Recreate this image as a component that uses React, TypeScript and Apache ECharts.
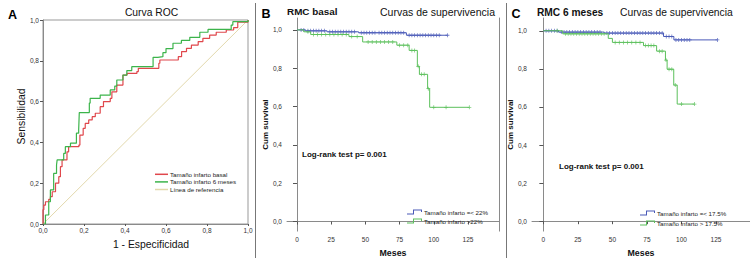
import React, { useEffect, useRef } from 'react';
import * as echarts from 'echarts';

// ---------- Panel A: ROC ----------
const rocBasalFpr = [0, 0, 0.004, 0.012, 0.028, 0.036, 0.045, 0.061, 0.077, 0.085, 0.093, 0.117, 0.125, 0.175, 0.18, 0.196, 0.206, 0.223, 0.24, 0.255, 0.279, 0.295, 0.328, 0.336, 0.36, 0.39, 0.41, 0.458, 0.465, 0.555, 0.565, 0.57, 0.634, 0.66, 0.676, 0.7, 0.724, 0.757, 0.78, 0.813, 0.845, 0.894, 0.93, 0.95, 1];
const rocBasalTpr = [0, 0.07, 0.093, 0.109, 0.121, 0.134, 0.158, 0.2, 0.232, 0.281, 0.314, 0.354, 0.379, 0.387, 0.436, 0.469, 0.493, 0.51, 0.526, 0.543, 0.575, 0.6, 0.616, 0.648, 0.681, 0.73, 0.738, 0.747, 0.763, 0.763, 0.788, 0.804, 0.804, 0.82, 0.845, 0.861, 0.877, 0.894, 0.91, 0.926, 0.94, 0.951, 0.963, 0.99, 1];
const roc6Fpr = [0, 0.012, 0.028, 0.036, 0.052, 0.066, 0.069, 0.101, 0.109, 0.134, 0.163, 0.174, 0.177, 0.195, 0.226, 0.23, 0.279, 0.279, 0.328, 0.328, 0.35, 0.36, 0.39, 0.409, 0.433, 0.537, 0.537, 0.56, 0.585, 0.6, 0.634, 0.675, 0.716, 0.765, 0.805, 0.918, 0.918, 0.926, 1];
const roc6Tpr = [0, 0.044, 0.109, 0.167, 0.248, 0.289, 0.314, 0.346, 0.379, 0.396, 0.445, 0.46, 0.546, 0.546, 0.593, 0.616, 0.616, 0.632, 0.632, 0.657, 0.676, 0.706, 0.73, 0.752, 0.771, 0.771, 0.817, 0.82, 0.84, 0.86, 0.886, 0.9, 0.915, 0.94, 0.954, 0.954, 0.975, 0.992, 1];
const refLineX = [0, 1];
const refLineY = [0, 1];
const rocTicks = [0, 0.2, 0.4, 0.6, 0.8, 1.0];

// ---------- Panel B: RMC basal ----------
const bLowTime = [0, 6, 22, 45, 80, 110];
const bLowSurv = [1, 0.995, 0.99, 0.985, 0.972, 0.972];
const bHighTime = [0, 5, 10, 38, 48, 73, 82, 88, 89.5, 95.5, 97, 126];
const bHighSurv = [1, 0.99, 0.976, 0.965, 0.937, 0.92, 0.893, 0.81, 0.768, 0.693, 0.596, 0.596];
const bLowCensor = [3, 5, 8, 10, 12, 14, 16, 18, 20, 24, 26, 28, 30, 32, 34, 36, 38, 40, 42, 47, 49, 51, 53, 55, 57, 60, 62, 64, 66, 68, 70, 72, 74, 76, 78, 82, 84, 86, 88, 90, 92, 94, 96, 98, 100, 102, 104, 110];
const bHighCensor = [8, 12, 15, 18, 21, 24, 27, 30, 33, 36, 40, 44, 52, 55, 58, 61, 64, 67, 70, 75, 78, 81, 84, 86, 88.6, 91, 93, 96, 100, 109, 126];

// ---------- Panel C: RMC 6 meses ----------
const cLowTime = [0, 11, 44, 87, 94.5, 126];
const cLowSurv = [1, 0.993, 0.988, 0.97, 0.952, 0.952];
const cHighTime = [0, 14, 47, 50, 72.5, 82, 88.4, 89.6, 94.4, 96.9, 109.4];
const cHighSurv = [1, 0.984, 0.96, 0.939, 0.922, 0.893, 0.846, 0.798, 0.715, 0.615, 0.615];
const cLowCensor = [2, 4, 6, 8, 10, 13, 15, 17, 19, 21, 23, 25, 27, 29, 31, 33, 35, 37, 39, 41, 46, 48, 50, 52, 54, 56, 58, 60, 62, 64, 66, 68, 70, 72, 74, 76, 78, 80, 82, 84, 86, 89, 91, 93, 96, 98, 100, 102, 104, 106, 126];
const cHighCensor = [10, 16, 18, 20, 22, 24, 26, 28, 30, 32, 34, 36, 38, 40, 42, 44, 52, 55, 58, 61, 64, 67, 70, 74, 76, 78, 80, 84, 86, 88.8, 91, 93, 95.5, 100, 109.4];

const monthTicks = [0, 25, 50, 75, 100, 125];
const survTicks = [0, 0.2, 0.4, 0.6, 0.8, 1.0];

const FONT = "'Liberation Sans', Arial, sans-serif";
const RED = '#e0474c';
const ROC_GREEN = '#3cb44b';
const REF = '#e2d8ac';
const BLUE = '#4a5ab8';
const KM_GREEN = '#5cc05c';
const AXIS = '#8a8a8a';

const zip = (a: number[], b: number[]) => a.map((v, i) => [v, b[i]]);
const survAt = (times: number[], surv: number[], t: number) => {
  let s = surv[0];
  for (let i = 0; i < times.length; i++) if (times[i] <= t) s = surv[i];
  return s;
};
const censorPts = (c: number[], times: number[], surv: number[]) => c.map((t) => [t, survAt(times, surv, t)]);
const comma = (v: number) => v.toFixed(1).replace('.', ',');

const PLUS = 'path://M1.2,0 L1.8,0 L1.8,1.2 L3,1.2 L3,1.8 L1.8,1.8 L1.8,3 L1.2,3 L1.2,1.8 L0,1.8 L0,1.2 L1.2,1.2 Z';
const STEP_ICON = 'path://M0,4 L6,4 L6,0 L15,0 L15,2.5 L14,2.5 L14,1 L7,1 L7,5 L0,5 Z';

export default function App() {
  const ref = useRef<HTMLDivElement>(null);
  useEffect(() => {
    const chart = echarts.init(ref.current!, undefined, { renderer: 'svg' });
    const tickLabel = { fontSize: 6.5, color: '#333', fontFamily: FONT };
    const kmX = (gridIndex: number, min: number, max: number, gap: number) => ({
      type: 'value', gridIndex, min, max,
      axisLine: { show: true, lineStyle: { color: AXIS, width: 1 } },
      axisTick: { show: true, length: 3, customValues: monthTicks, lineStyle: { color: '#555' } },
      axisLabel: { ...tickLabel, margin: 5, customValues: monthTicks },
      splitLine: { show: false },
      name: 'Meses', nameLocation: 'middle', nameGap: gap,
      nameTextStyle: { fontSize: 8.8, fontWeight: 'bold', color: '#111', fontFamily: FONT },
    });
    const kmY = (gridIndex: number, min: number, max: number, gap: number) => ({
      type: 'value', gridIndex, min, max,
      axisLine: { show: true, lineStyle: { color: AXIS, width: 1 } },
      axisTick: { show: true, length: 4, customValues: survTicks, lineStyle: { color: '#555' } },
      axisLabel: { ...tickLabel, margin: 5, customValues: survTicks, formatter: comma },
      splitLine: { show: false },
      name: 'Cum survival', nameLocation: 'middle', nameGap: gap, nameRotate: 90,
      nameTextStyle: { fontSize: 8, fontWeight: 'bold', color: '#111', fontFamily: FONT },
    });
    const stepLine = (name: string, x: number, y: number, t: number[], s: number[], color: string) => ({
      name, type: 'line', xAxisIndex: x, yAxisIndex: y, step: 'end',
      data: zip(t, s), showSymbol: false, symbol: 'none',
      lineStyle: { color, width: 1 }, itemStyle: { color }, silent: true,
    });
    const censor = (name: string, x: number, y: number, pts: number[][], color: string) => ({
      name, type: 'scatter', xAxisIndex: x, yAxisIndex: y, data: pts,
      symbol: PLUS, symbolSize: 4, itemStyle: { color }, silent: true,
    });
    const kmLegend = (left: number, top: number, gap: number, data: string[]) => ({
      orient: 'vertical', left, top, itemWidth: 15, itemHeight: 5, itemGap: gap,
      icon: STEP_ICON, symbolKeepAspect: false, data, selectedMode: false,
      itemStyle: { borderWidth: 0 },
      textStyle: { fontSize: 6.2, color: '#222', fontFamily: FONT, padding: [0, 0, 0, -3] },
    });

    chart.setOption({
      animation: false,
      backgroundColor: '#fff',
      textStyle: { fontFamily: FONT },
      grid: [
        { left: 43, top: 20, width: 205, height: 204, show: true, borderColor: '#999', borderWidth: 1 },
        { left: 287, top: 18, width: 212, height: 215 },
        { left: 532, top: 18, width: 218, height: 216 },
      ],
      xAxis: [
        {
          type: 'value', gridIndex: 0, min: 0, max: 1, interval: 0.2,
          axisLine: { show: true, lineStyle: { color: AXIS } },
          axisTick: { show: true, length: 2, lineStyle: { color: '#555' } },
          axisLabel: { ...tickLabel, margin: 3, formatter: comma, customValues: rocTicks },
          splitLine: { show: false },
          name: '1 - Especificidad', nameLocation: 'middle', nameGap: 15,
          nameTextStyle: { fontSize: 10.4, color: '#111', fontFamily: FONT, padding: [0, 0, 0, 11] },
        },
        kmX(1, -7.31, 147.7, 14),
        kmX(2, -8.2, 149.6, 13),
      ],
      yAxis: [
        {
          type: 'value', gridIndex: 0, min: 0, max: 1, interval: 0.2,
          axisLine: { show: true, lineStyle: { color: AXIS } },
          axisTick: { show: true, length: 3, lineStyle: { color: '#555' } },
          axisLabel: { ...tickLabel, margin: 4, formatter: comma, customValues: rocTicks },
          splitLine: { show: false },
          name: 'Sensibilidad', nameLocation: 'middle', nameGap: 16, nameRotate: 90,
          nameTextStyle: { fontSize: 10.4, color: '#111', fontFamily: FONT, padding: [0, 0, 0, 11] },
        },
        kmY(1, -0.05, 1.062, 17),
        {
          type: 'value', gridIndex: 1, position: 'right', min: -0.05, max: 1.062,
          axisLine: { show: true, lineStyle: { color: AXIS } },
          axisTick: { show: false }, axisLabel: { show: false }, splitLine: { show: false },
        },
        kmY(2, -0.052, 1.067, 15),
      ],
      legend: [
        {
          orient: 'vertical', left: 150, top: 166, itemWidth: 13, itemHeight: 1.5, itemGap: 1,
          icon: 'rect', selectedMode: false,
          data: ['Tamaño infarto basal', 'Tamaño infarto 6 meses', 'Línea de referencia'],
          textStyle: { fontSize: 6.2, color: '#222', fontFamily: FONT, lineHeight: 6.6, padding: [0, 0, 0, -3] },
        },
        kmLegend(402, 204, 3, ['Tamaño infarto =< 22%', 'Tamaño infarto >22%']),
        kmLegend(635, 205, 4, ['Tamaño infarto =< 17.5%', 'Tamaño infarto > 17.5%']),
      ],
      series: [
        {
          name: 'Tamaño infarto basal', type: 'line', xAxisIndex: 0, yAxisIndex: 0, step: 'end',
          data: zip(rocBasalFpr, rocBasalTpr), showSymbol: false, symbol: 'none',
          lineStyle: { color: RED, width: 1.2 }, itemStyle: { color: RED }, silent: true,
        },
        {
          name: 'Tamaño infarto 6 meses', type: 'line', xAxisIndex: 0, yAxisIndex: 0, step: 'end',
          data: zip(roc6Fpr, roc6Tpr), showSymbol: false, symbol: 'none',
          lineStyle: { color: ROC_GREEN, width: 1.2 }, itemStyle: { color: ROC_GREEN }, silent: true,
        },
        {
          name: 'Línea de referencia', type: 'line', xAxisIndex: 0, yAxisIndex: 0,
          data: zip(refLineX, refLineY), showSymbol: false, symbol: 'none', z: 1,
          lineStyle: { color: REF, width: 1 }, itemStyle: { color: REF }, silent: true,
        },
        stepLine('Tamaño infarto =< 22%', 1, 1, bLowTime, bLowSurv, BLUE),
        stepLine('Tamaño infarto >22%', 1, 1, bHighTime, bHighSurv, KM_GREEN),
        censor('B bajo censurado', 1, 1, censorPts(bLowCensor, bLowTime, bLowSurv), BLUE),
        censor('B alto censurado', 1, 1, censorPts(bHighCensor, bHighTime, bHighSurv), KM_GREEN),
        stepLine('Tamaño infarto =< 17.5%', 2, 3, cLowTime, cLowSurv, BLUE),
        stepLine('Tamaño infarto > 17.5%', 2, 3, cHighTime, cHighSurv, KM_GREEN),
        censor('C bajo censurado', 2, 3, censorPts(cLowCensor, cLowTime, cLowSurv), BLUE),
        censor('C alto censurado', 2, 3, censorPts(cHighCensor, cHighTime, cHighSurv), KM_GREEN),
      ],
      graphic: [
        { type: 'line', shape: { x1: 255.5, y1: 3, x2: 255.5, y2: 258 }, style: { stroke: '#777', lineWidth: 1 } },
        { type: 'line', shape: { x1: 506.5, y1: 3, x2: 506.5, y2: 258 }, style: { stroke: '#777', lineWidth: 1 } },
        { type: 'text', x: 12.5, y: 15, style: { text: 'A', font: `bold 12.5px ${FONT}`, fill: '#000', align: 'center', verticalAlign: 'middle' } },
        { type: 'text', x: 151.5, y: 12, style: { text: 'Curva ROC', font: `10.3px ${FONT}`, fill: '#111', align: 'center', verticalAlign: 'middle' } },
        { type: 'text', x: 266, y: 13.5, style: { text: 'B', font: `bold 12.5px ${FONT}`, fill: '#000', align: 'center', verticalAlign: 'middle' } },
        { type: 'text', x: 287, y: 11.5, style: { text: 'RMC basal', font: `bold 9.9px ${FONT}`, fill: '#111', align: 'left', verticalAlign: 'middle' } },
        { type: 'text', x: 380, y: 12, style: { text: 'Curvas de supervivencia', font: `10.5px ${FONT}`, fill: '#111', align: 'left', verticalAlign: 'middle' } },
        { type: 'text', x: 516, y: 14, style: { text: 'C', font: `bold 12.5px ${FONT}`, fill: '#000', align: 'center', verticalAlign: 'middle' } },
        { type: 'text', x: 537, y: 12, style: { text: 'RMC 6 meses', font: `bold 10.2px ${FONT}`, fill: '#111', align: 'left', verticalAlign: 'middle' } },
        { type: 'text', x: 620, y: 12, style: { text: 'Curvas de supervivencia', font: `10.3px ${FONT}`, fill: '#111', align: 'left', verticalAlign: 'middle' } },
        { type: 'text', x: 302, y: 154, style: { text: 'Log-rank test p= 0.001', font: `bold 8px ${FONT}`, fill: '#111', align: 'left', verticalAlign: 'middle' } },
        { type: 'text', x: 559, y: 166.5, style: { text: 'Log-rank test p= 0.001', font: `bold 8px ${FONT}`, fill: '#111', align: 'left', verticalAlign: 'middle' } },
      ],
    });
    return () => chart.dispose();
  }, []);
  return <div ref={ref} style={{ position: 'absolute', left: 0, top: 0, width: 750, height: 262, background: '#fff' }} />;
}
